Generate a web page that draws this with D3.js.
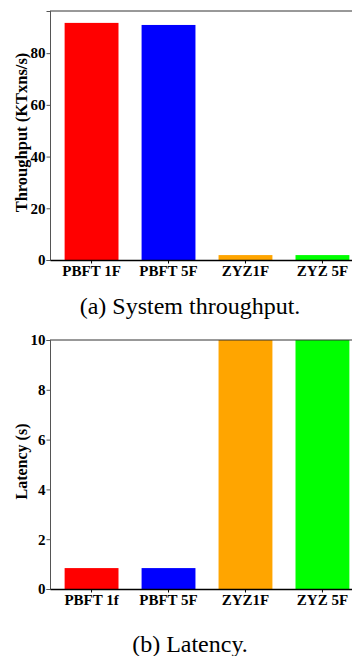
<!DOCTYPE html>
<html>
<head>
<meta charset="utf-8">
<script src="https://cdn.jsdelivr.net/npm/d3@7"></script>
<style>
  body { margin: 0; background: #fff; }
  svg text { font-family: "Liberation Serif", "DejaVu Serif", serif !important; }
  .tick text { font-weight: bold; font-size: 15px; fill: #000; }
  .axis-title { font-weight: bold; font-size: 16.5px; }
  .caption { font-size: 24px; }
</style>
</head>
<body>
<svg id="fig" width="352" height="656"></svg>
<script>
(function () {
    // values
    var throughputCats = ["PBFT 1F", "PBFT 5F", "ZYZ1F", "ZYZ 5F"];
    var throughput = [91.7, 90.9, 1.9, 1.9];
    var throughputTicks = [0, 20, 40, 60, 80];

    var latencyCats = ["PBFT 1f", "PBFT 5F", "ZYZ1F", "ZYZ 5F"];
    var latency = [0.84, 0.84, 10, 10];
    var latencyTicks = [0, 2, 4, 6, 8, 10];

    var barColors = ["#ff0000", "#0000ff", "#ffa500", "#00ff00"];

    var svg = d3.select("#fig");
    var left = 50, right = 364;

    function panel(cats, vals, ticks, yMax, top, bottom, yTitle, titleSize, caption, capY, id) {
        var x = d3.scaleBand()
            .domain(cats)
            .range([left, right])
            .paddingInner(0.3)
            .paddingOuter(0.19);

        var y = d3.scaleLinear()
            .domain([0, yMax])
            .range([bottom, top]);

        var g = svg.append("g");

        g.append("clipPath").attr("id", id)
            .append("rect")
            .attr("x", left).attr("y", top)
            .attr("width", right - left).attr("height", bottom - top);

        g.append("g")
            .attr("clip-path", "url(#" + id + ")")
            .selectAll("rect")
            .data(vals)
            .join("rect")
            .attr("x", function (d, i) { return x(cats[i]); })
            .attr("y", function (d) { return y(d); })
            .attr("width", x.bandwidth())
            .attr("height", function (d) { return bottom - y(d); })
            .attr("fill", function (d, i) { return barColors[i]; });

        // y axis
        var ya = g.append("g")
            .attr("transform", "translate(" + left + ",0)")
            .call(d3.axisLeft(y).tickValues(ticks).tickSize(3.5).tickPadding(1))
            .attr("font-family", null);
        ya.select(".domain").attr("stroke", "#555");
        ya.selectAll(".tick line").attr("stroke", "#555");

        // x axis
        var xa = g.append("g")
            .attr("transform", "translate(0," + bottom + ")")
            .call(d3.axisBottom(x).tickSize(3.5).tickPadding(1.5).tickSizeOuter(0))
            .attr("font-family", null);
        xa.select(".domain").attr("stroke", "#000").attr("stroke-width", 1.5);

        // top spine
        g.append("line")
            .attr("x1", left).attr("x2", right)
            .attr("y1", top).attr("y2", top)
            .attr("stroke", "#333");

        g.append("text")
            .attr("class", "axis-title")
            .style("font-size", titleSize + "px")
            .attr("transform", "translate(26.5," + ((top + bottom) / 2 - 3) + ") rotate(-90)")
            .attr("text-anchor", "middle")
            .text(yTitle);

        svg.append("text")
            .attr("class", "caption")
            .attr("x", 190)
            .attr("y", capY)
            .attr("text-anchor", "middle")
            .text(caption);
    }

    panel(throughputCats, throughput, throughputTicks, 96.3, 11, 260,
        "Throughput (KTxns/s)", 16.5, "(a) System throughput.", 314, "clipA");
    panel(latencyCats, latency, latencyTicks, 10, 340, 589,
        "Latency (s)", 16, "(b) Latency.", 652, "clipB");
})();
</script>
</body>
</html>
